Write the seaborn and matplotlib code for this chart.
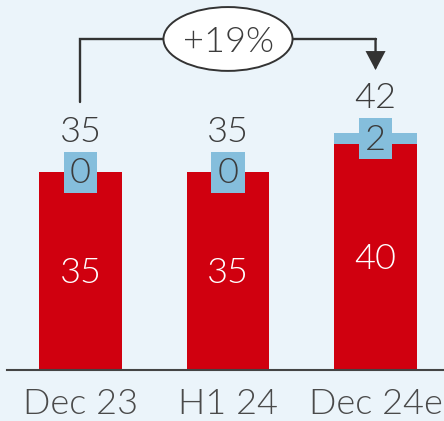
import matplotlib
matplotlib.use("Agg")
import matplotlib.pyplot as plt
from matplotlib.patches import Ellipse, Rectangle
import pandas as pd
import seaborn as sns

# Data
categories = ["Dec 23", "H1 24", "Dec 24e"]
base_values = [35, 35, 40]
extra_values = [0, 0, 2]
totals = [b + e for b, e in zip(base_values, extra_values)]
growth_label = "+19%"

# Style
RED = "#D0000F"
BLUE = "#85BEDC"
BG = "#EBF4FA"
TEXT = "#3C3C3C"
LINE = "#333333"

sns.set_style("white")
plt.rcParams["font.family"] = ["Lato", "DejaVu Sans"]
plt.rcParams["font.weight"] = 300

df = pd.DataFrame({"period": categories, "base": base_values,
                   "extra": extra_values, "total": totals})

fig = plt.figure(figsize=(4.44, 4.21), dpi=100, facecolor=BG)
ax = fig.add_axes([7 / 444, 51 / 421, 437 / 444, 370 / 421])
ax.set_facecolor(BG)

bar_w = 0.56
# blue totals underneath, red base drawn over them -> stacked look
sns.barplot(data=df, x="period", y="total", color=BLUE, saturation=1,
            width=bar_w, errorbar=None, ax=ax, zorder=2, linewidth=0)
sns.barplot(data=df, x="period", y="base", color=RED, saturation=1,
            width=bar_w, errorbar=None, ax=ax, zorder=3, linewidth=0)

ax.set_xlim(-0.498, 2.464)
ax.set_ylim(0, 65.5)
ax.set_xlabel("")
ax.set_ylabel("")
ax.set_yticks([])
for side in ("top", "right", "left"):
    ax.spines[side].set_visible(False)
ax.spines["bottom"].set_color("#444444")
ax.spines["bottom"].set_linewidth(1.5)
ax.spines["bottom"].set_zorder(5)
ax.tick_params(axis="x", length=0, pad=13, labelsize=26, labelcolor="#4A4A4A")
for lbl in ax.get_xticklabels():
    lbl.set_fontweight(300)

FS = 26
box_w, box_h = 0.224, 7.3
for i, (b, e, t) in enumerate(zip(base_values, extra_values, totals)):
    mid_extra = b + e / 2
    # value box for the upper segment
    ax.add_patch(Rectangle((i - box_w / 2, mid_extra - box_h / 2), box_w, box_h,
                           facecolor=BLUE, edgecolor="none", zorder=4))
    ax.annotate(f"{e}", xy=(i, mid_extra), xytext=(0, -8), textcoords="offset points",
                ha="center", va="baseline", fontsize=FS, color=TEXT, zorder=6)
    # base value inside red bar
    ax.annotate(f"{b}", xy=(i, b / 2), xytext=(0, -8.3), textcoords="offset points",
                ha="center", va="baseline", fontsize=FS, color="white", zorder=6)
    # total above
    ax.annotate(f"{t}", xy=(i, mid_extra), xytext=(0, 22), textcoords="offset points",
                ha="center", va="baseline", fontsize=FS, color=TEXT, zorder=6)

# growth bracket from first to last bar
level = 58.6
ax.plot([0, 0, 2], [totals[0] + 12.4, level, level], color=LINE, lw=1.7,
        solid_joinstyle="miter", zorder=5, clip_on=False)
ax.annotate("", xy=(2, totals[-1] + 11.1), xytext=(2, level),
            arrowprops=dict(arrowstyle="-|>,head_length=0.55,head_width=0.29",
                            mutation_scale=20, lw=1.7, color=LINE,
                            shrinkA=0, shrinkB=0, joinstyle="miter"),
            zorder=5)
ax.add_patch(Ellipse((1, level), 0.875, 11.3, facecolor="white",
                     edgecolor=LINE, lw=1.4, zorder=6, clip_on=False))
ax.text(1, level, growth_label, ha="center", va="center_baseline",
        fontsize=FS, color=TEXT, zorder=7)

fig.savefig("out.png", dpi=100, facecolor=BG)
